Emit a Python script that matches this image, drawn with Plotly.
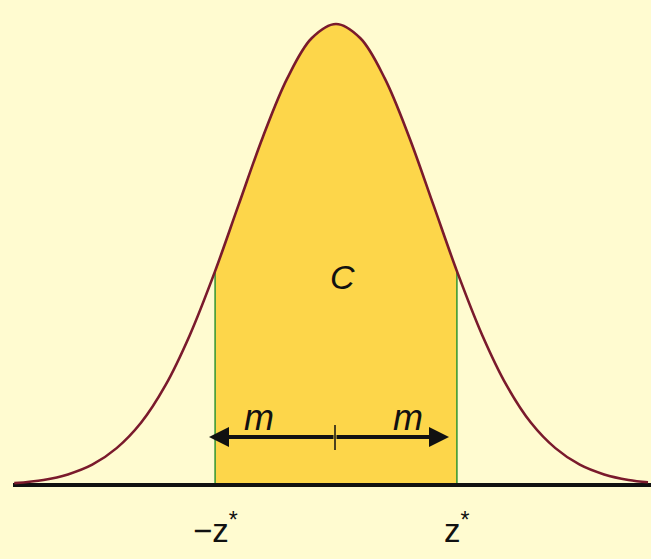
import plotly.graph_objects as go

# ---- data (z in standard-deviation units, height relative to peak) ----
z_values = [-3.3, -3.0, -2.75, -2.5, -2.25, -2.0, -1.75, -1.5, -1.24, -1.0, -0.75, -0.5, -0.25,
            0.0, 0.25, 0.5, 0.75, 1.0, 1.24, 1.5, 1.75, 2.0, 2.25, 2.5, 2.75, 3.0, 3.2]
heights = [0.004, 0.011, 0.023, 0.044, 0.080, 0.135, 0.216, 0.325, 0.464, 0.607, 0.755, 0.882, 0.969,
           1.000, 0.969, 0.882, 0.755, 0.607, 0.464, 0.325, 0.216, 0.135, 0.080, 0.044, 0.023, 0.011, 0.006]
z_star = 1.24
tick_labels = ["\u2212z*", "z*"]
center_label = "C"
margin_label = "m"

# ---- pixel <-> data helpers (layout only) ----
W, H = 651, 559
CX, SIG = 336.0, 97.5
BASE, PEAK = 485.0, 24.0
PXH = BASE - PEAK

def dx(px):
    return (px - CX) / SIG

def dy(py):
    return (BASE - py) / PXH

BG = "#FFFBD0"
FILL = "#FDD64A"
CURVE = "#7A1A2C"
GREEN = "#3E9A36"

fig = go.Figure()

# shaded central area
fz = [z for z in z_values if -z_star <= z <= z_star]
fh = [h for z, h in zip(z_values, heights) if -z_star <= z <= z_star]
fig.add_trace(go.Scatter(x=fz, y=fh, mode="lines", line=dict(color=FILL, width=0, shape="spline"),
                         fill="tozeroy", fillcolor=FILL, hoverinfo="skip", showlegend=False))

# green verticals at -z*, z*
h_star = heights[z_values.index(z_star)]
for zz in (-z_star, z_star):
    fig.add_trace(go.Scatter(x=[zz, zz], y=[0, h_star], mode="lines",
                             line=dict(color=GREEN, width=1.6), hoverinfo="skip", showlegend=False))

# baseline
fig.add_trace(go.Scatter(x=[dx(13), dx(651)], y=[0, 0], mode="lines",
                         line=dict(color="#111111", width=4), hoverinfo="skip", showlegend=False))

# normal curve
fig.add_trace(go.Scatter(x=z_values, y=heights, mode="lines",
                         line=dict(color=CURVE, width=2.6, shape="spline"),
                         hoverinfo="skip", showlegend=False))

# center tick on the arrow
fig.add_trace(go.Scatter(x=[dx(335), dx(335)], y=[dy(425), dy(450)], mode="lines",
                         line=dict(color="#111111", width=1.5), hoverinfo="skip", showlegend=False))

# double arrow
arrow_y = dy(437)
for tip in (dx(209), dx(449)):
    fig.add_annotation(x=tip, y=arrow_y, ax=dx(335), ay=arrow_y, axref="x", ayref="y",
                       xref="x", yref="y", text="", showarrow=True,
                       arrowhead=2, arrowsize=1.0, arrowwidth=4, arrowcolor="#111111")

font_family = "Liberation Sans, Arial, sans-serif"

fig.add_annotation(x=dx(342), y=dy(277), text="<i>" + center_label + "</i>", showarrow=False,
                   font=dict(family=font_family, size=34, color="#111111"))
fig.add_annotation(x=dx(259), y=dy(417), text="<i>" + margin_label + "</i>", showarrow=False,
                   font=dict(family=font_family, size=36, color="#111111"))
fig.add_annotation(x=dx(408), y=dy(417), text="<i>" + margin_label + "</i>", showarrow=False,
                   font=dict(family=font_family, size=36, color="#111111"))

label_html = ["\u2212z<sup>*</sup>", "z<sup>*</sup>"]
for zz, txt in zip((-z_star, z_star), label_html):
    fig.add_annotation(x=zz, y=dy(528), text=txt, showarrow=False,
                       font=dict(family=font_family, size=33, color="#111111"))

fig.update_layout(
    width=W, height=H,
    margin=dict(l=0, r=0, t=0, b=0),
    paper_bgcolor=BG, plot_bgcolor=BG,
    xaxis=dict(range=[dx(0), dx(W)], visible=False, fixedrange=True),
    yaxis=dict(range=[dy(H), dy(0)], visible=False, fixedrange=True),
    showlegend=False,
)

fig.write_html("out.html", config={"displayModeBar": False},
               post_script="document.body.style.margin='0';document.body.style.overflow='hidden';")
